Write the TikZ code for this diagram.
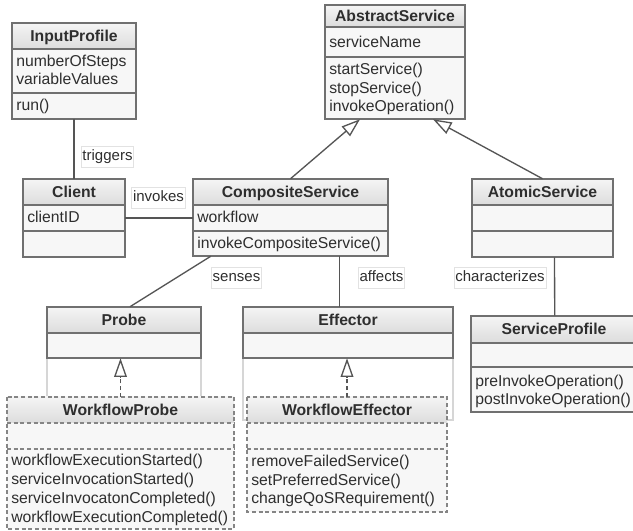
\documentclass[tikz,border=0pt]{standalone}
\usepackage{fontspec}
\setmainfont{Liberation Sans}
\usetikzlibrary{arrows.meta,calc,fit}
\definecolor{txtc}{HTML}{2E2E2E}
\definecolor{bordc}{HTML}{707070}
\definecolor{dashc}{HTML}{858585}
\definecolor{boxfill}{HTML}{F7F7F7}
\definecolor{hdtop}{HTML}{F5F5F5}
\definecolor{hdbot}{HTML}{DCDCDC}
\definecolor{linec}{HTML}{555555}
\definecolor{lblbord}{HTML}{E2E2E2}
\definecolor{framec}{HTML}{D6D6D6}
\tikzset{
  boxbg/.style={inner sep=0pt, fill=boxfill, draw=none},
  bordl/.style={draw=bordc, line width=1pt},
  sepl/.style={draw=bordc, line width=1pt},
  dsh/.style={draw=dashc, dash pattern=on 3pt off 2pt},
  ttl/.style={font=\bfseries\fontsize{11.8}{14.25}\selectfont, text=txtc, inner sep=0pt, text height=8.6pt, text depth=0.5pt},
  boxtxt/.style={font=\fontsize{11.8}{14.25}\selectfont, text=txtc, inner sep=0pt, anchor=base west},
  lbl/.style={draw=lblbord, line width=0.6pt, fill=white, font=\fontsize{11.25}{13}\selectfont, text=txtc, inner xsep=1pt, inner ysep=2.5pt, text height=8.2pt, text depth=2.2pt},
  conn/.style={draw=linec, line width=1pt},
  gen/.style={conn, -{Triangle[open, length=14pt, width=9.5pt, fill=white, line width=1pt]}},
  realz/.style={gen, dash pattern=on 3pt off 2pt},
  framel/.style={draw=framec, line width=0.8pt}
}
\newcommand{\umlbox}[8]{%
  \node[boxbg, fit={(#2,#3) (#4,#5)}] (#1) {};
  \shade[top color=hdtop, bottom color=hdbot] (#2,#3) rectangle (#4,#6);
  \draw[sepl, #8] (#2,#6) -- (#4,#6);
  \draw[bordl, #8] (#2,#3) rectangle (#4,#5);
  \node[ttl] at ($(#2,#3)!0.5!(#4,#6)$) {#7};
}
\begin{document}
\begin{tikzpicture}[x=0.75pt, y=-0.75pt]
\useasboundingbox (0,0) rectangle (633,531);
\fill[white] (0,0) rectangle (633,531);

% light frames behind Probe / Effector
\draw[framel] (47,358) -- (47,397);
\draw[framel] (201,358) -- (201,397);
\draw[framel] (243,358) -- (243,420) -- (247,420);
\draw[framel] (453,358) -- (453,420) -- (447,420);

% InputProfile
\umlbox{ip}{12}{23}{136}{119}{49}{InputProfile}{}
\draw[sepl] (12,93) -- (136,93);
\node[boxtxt] at (16,67) {numberOfSteps};
\node[boxtxt] at (16,85) {variableValues};
\node[boxtxt] at (16,111) {run()};

% AbstractService
\umlbox{as}{325}{5}{465}{119}{27}{AbstractService}{}
\draw[sepl] (325,57) -- (465,57);
\node[boxtxt] at (329,48) {serviceName};
\node[boxtxt] at (329,75) {startService()};
\node[boxtxt] at (329,93.5) {stopService()};
\node[boxtxt] at (329,112) {invokeOperation()};

% Client
\umlbox{cl}{23}{179}{125}{257}{205}{Client}{}
\draw[sepl] (23,231) -- (125,231);
\node[boxtxt] at (27,223) {clientID};

% CompositeService
\umlbox{cs}{193}{179}{388}{256}{205}{CompositeService}{}
\draw[sepl] (193,231) -- (388,231);
\node[boxtxt] at (197,223) {workflow};
\node[boxtxt] at (197,249) {invokeCompositeService()};

% AtomicService
\umlbox{at}{472}{179}{613}{257}{205}{AtomicService}{}
\draw[sepl] (472,231) -- (613,231);

% Probe
\umlbox{pr}{47}{307}{201}{358}{333}{Probe}{}

% Effector
\umlbox{ef}{243}{307}{453}{358}{333}{Effector}{}

% ServiceProfile
\umlbox{sp}{471}{316}{637}{412}{343}{ServiceProfile}{}
\draw[sepl] (471,367) -- (637,367);
\node[boxtxt] at (475,387) {preInvokeOperation()};
\node[boxtxt] at (475,404.5) {postInvokeOperation()};

% WorkflowProbe
\umlbox{wp}{7}{397}{234}{529}{423}{WorkflowProbe}{dsh}
\draw[sepl, dsh] (7,449) -- (234,449);
\node[boxtxt] at (11,465.5) {workflowExecutionStarted()};
\node[boxtxt] at (11,484.5) {serviceInvocationStarted()};
\node[boxtxt] at (11,503.5) {serviceInvocatonCompleted()};
\node[boxtxt] at (11,522.5) {workflowExecutionCompleted()};

% WorkflowEffector
\umlbox{we}{247}{397}{447}{512}{423}{WorkflowEffector}{dsh}
\draw[sepl, dsh] (247,449) -- (447,449);
\node[boxtxt] at (251,466.5) {removeFailedService()};
\node[boxtxt] at (251,485) {setPreferredService()};
\node[boxtxt] at (251,503.5) {changeQoSRequirement()};

% connectors
\draw[conn] (ip.south) -- (cl.north);
\draw[conn] (cl.east) -- (cl.east -| cs.west);
\draw[gen] (cs.north) -- ($(as.south)+(-35,0)$);
\draw[gen] (at.north) -- ($(as.south)+(38,0)$);
\draw[conn] ($(cs.south west)+(18,0)$) -- ($(pr.north)+(6,0)$);
\draw[conn] ($(cs.south west)+(147,0)$) -- ($(ef.north west)+(97,0)$);
\draw[conn] ($(at.south)+(12,0)$) -- ($(sp.north west)+(84,0)$);
\draw[realz] (wp.north) -- (wp.north |- pr.south);
\draw[realz] (we.north) -- (we.north |- ef.south);

% labels
\node[lbl] (lt) at (107.5,157) {triggers};
\node[lbl] (li) at (158.5,198) {invokes};
\node[lbl] (ls) at (236.5,278) {senses};
\node[lbl] (la) at (381.5,278) {affects};
\node[lbl] (lc) at (500,278) {characterizes};
\end{tikzpicture}
\end{document}
